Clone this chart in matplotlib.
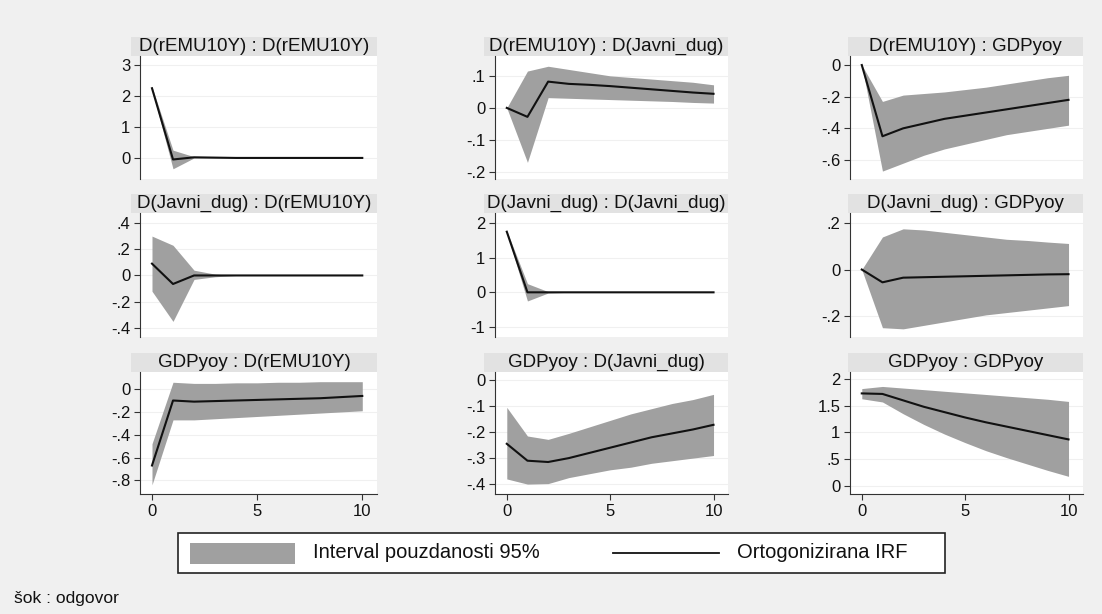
import matplotlib
matplotlib.use("Agg")
import matplotlib.pyplot as plt
from matplotlib.patches import Rectangle
from matplotlib.lines import Line2D

plt.rcParams["font.family"] = ["Liberation Sans", "DejaVu Sans"]

steps = list(range(11))

titles = [
    "D(rEMU10Y) : D(rEMU10Y)", "D(rEMU10Y) : D(Javni_dug)", "D(rEMU10Y) : GDPyoy",
    "D(Javni_dug) : D(rEMU10Y)", "D(Javni_dug) : D(Javni_dug)", "D(Javni_dug) : GDPyoy",
    "GDPyoy : D(rEMU10Y)", "GDPyoy : D(Javni_dug)", "GDPyoy : GDPyoy",
]

# orthogonalised IRF, lower and upper 95% bounds, per panel
irf_1 = [2.25, -0.05, 0.02, 0.01, 0, 0, 0, 0, 0, 0, 0]
lo_1 = [2.2, -0.35, 0.0, 0.0, 0, 0, 0, 0, 0, 0, 0]
hi_1 = [2.3, 0.25, 0.04, 0.015, 0, 0, 0, 0, 0, 0, 0]

irf_2 = [0, -0.028, 0.082, 0.075, 0.072, 0.068, 0.063, 0.058, 0.053, 0.048, 0.044]
lo_2 = [0, -0.17, 0.032, 0.03, 0.028, 0.026, 0.024, 0.022, 0.02, 0.017, 0.015]
hi_2 = [0, 0.115, 0.13, 0.12, 0.11, 0.10, 0.095, 0.09, 0.085, 0.08, 0.072]

irf_3 = [0, -0.45, -0.40, -0.37, -0.34, -0.32, -0.30, -0.28, -0.26, -0.24, -0.22]
lo_3 = [0, -0.67, -0.62, -0.57, -0.53, -0.50, -0.47, -0.44, -0.42, -0.40, -0.38]
hi_3 = [0, -0.23, -0.19, -0.18, -0.17, -0.155, -0.14, -0.12, -0.10, -0.08, -0.065]

irf_4 = [0.09, -0.065, 0.0, 0.0, 0, 0, 0, 0, 0, 0, 0]
lo_4 = [-0.12, -0.35, -0.03, -0.01, 0, 0, 0, 0, 0, 0, 0]
hi_4 = [0.30, 0.23, 0.04, 0.01, 0, 0, 0, 0, 0, 0, 0]

irf_5 = [1.75, 0.0, 0.0, 0, 0, 0, 0, 0, 0, 0, 0]
lo_5 = [1.72, -0.25, -0.02, 0, 0, 0, 0, 0, 0, 0, 0]
hi_5 = [1.78, 0.25, 0.02, 0, 0, 0, 0, 0, 0, 0, 0]

irf_6 = [0, -0.055, -0.035, -0.033, -0.031, -0.029, -0.027, -0.025, -0.023, -0.021, -0.02]
lo_6 = [0, -0.25, -0.255, -0.24, -0.225, -0.21, -0.195, -0.185, -0.175, -0.165, -0.155]
hi_6 = [0, 0.14, 0.175, 0.17, 0.16, 0.15, 0.14, 0.13, 0.125, 0.118, 0.112]

irf_7 = [-0.67, -0.10, -0.11, -0.105, -0.10, -0.095, -0.09, -0.085, -0.08, -0.07, -0.06]
lo_7 = [-0.84, -0.27, -0.27, -0.26, -0.25, -0.24, -0.23, -0.22, -0.21, -0.20, -0.19]
hi_7 = [-0.48, 0.06, 0.05, 0.05, 0.055, 0.055, 0.06, 0.06, 0.065, 0.065, 0.065]

irf_8 = [-0.245, -0.31, -0.315, -0.30, -0.28, -0.26, -0.24, -0.22, -0.205, -0.19, -0.172]
lo_8 = [-0.38, -0.40, -0.398, -0.375, -0.36, -0.345, -0.335, -0.32, -0.31, -0.30, -0.29]
hi_8 = [-0.105, -0.215, -0.228, -0.205, -0.18, -0.155, -0.13, -0.11, -0.09, -0.075, -0.055]

irf_9 = [1.73, 1.72, 1.60, 1.48, 1.38, 1.28, 1.19, 1.11, 1.03, 0.95, 0.87]
lo_9 = [1.63, 1.57, 1.35, 1.15, 0.97, 0.81, 0.66, 0.53, 0.41, 0.29, 0.18]
hi_9 = [1.82, 1.86, 1.83, 1.80, 1.77, 1.74, 1.71, 1.68, 1.65, 1.62, 1.58]

series = [
    (irf_1, lo_1, hi_1), (irf_2, lo_2, hi_2), (irf_3, lo_3, hi_3),
    (irf_4, lo_4, hi_4), (irf_5, lo_5, hi_5), (irf_6, lo_6, hi_6),
    (irf_7, lo_7, hi_7), (irf_8, lo_8, hi_8), (irf_9, lo_9, hi_9),
]

yticks = [
    [0, 1, 2, 3], [-0.2, -0.1, 0, 0.1], [-0.6, -0.4, -0.2, 0],
    [-0.4, -0.2, 0, 0.2, 0.4], [-1, 0, 1, 2], [-0.2, 0, 0.2],
    [-0.8, -0.6, -0.4, -0.2, 0], [-0.4, -0.3, -0.2, -0.1, 0], [0, 0.5, 1, 1.5, 2],
]
ylims = [
    (-0.68, 3.29), (-0.222, 0.162), (-0.72, 0.057),
    (-0.469, 0.476), (-1.29, 2.29), (-0.29, 0.243),
    (-0.92, 0.15), (-0.438, 0.031), (-0.15, 2.13),
]

legend_labels = ["Interval pouzdanosti 95%", "Ortogonizirana IRF"]
note = "šok : odgovor"


def stata_fmt(v):
    # Stata style: no leading zero, e.g. -.2
    if abs(v - round(v)) < 1e-9:
        return str(int(round(v)))
    return f"{v:g}".replace("0.", ".")


W, H = 1102, 614
BG = "#f0f0f0"
BAND = "#e2e2e2"
FILL = "#a0a0a0"
INK = "#111111"


def fx(x):
    return x / W


def fy(y):
    return 1 - y / H


fig = plt.figure(figsize=(W / 100, H / 100), dpi=100, facecolor=BG)

col_x = [(140, 377), (495, 728), (850, 1083)]
row_y = [(56, 179), (213, 337), (372, 494)]
band_left = [9, 11, 2]   # px the title band reaches left of the y axis
band_px = 19

for i in range(9):
    r, c = divmod(i, 3)
    x0, x1 = col_x[c]
    y0, y1 = row_y[r]
    ax = fig.add_axes([fx(x0), fy(y1), (x1 - x0) / W, (y1 - y0) / H])
    ax.set_facecolor("white")
    irf, lo, hi = series[i]
    ax.fill_between(steps, lo, hi, color=FILL, linewidth=0)
    ax.plot(steps, irf, color=INK, linewidth=1.5)
    ax.set_xlim(-0.57, 10.7)
    ax.set_ylim(*ylims[i])
    ax.set_yticks(yticks[i])
    ax.set_yticklabels([stata_fmt(v) for v in yticks[i]])
    ax.grid(axis="y", color="#f0f0f0", linewidth=0.8)
    ax.set_axisbelow(True)
    for s in ("top", "right"):
        ax.spines[s].set_visible(False)
    ax.spines["left"].set_color("#333333")
    ax.spines["bottom"].set_color("#333333")
    ax.tick_params(axis="y", length=4, color="#333333", labelsize=12, pad=3,
                   labelcolor=INK)
    if r == 2:
        ax.set_xticks([0, 5, 10])
        ax.tick_params(axis="x", length=4, color="#333333", labelsize=12, pad=3,
                       labelcolor=INK)
    else:
        ax.spines["bottom"].set_visible(False)
        ax.set_xticks([])
    hb = band_px / (y1 - y0)
    bl = band_left[c] / (x1 - x0)
    ax.add_patch(Rectangle((-bl, 1), 1 + bl, hb, transform=ax.transAxes,
                           facecolor=BAND, edgecolor="none", clip_on=False))
    ax.text(0.5 - bl / 2, 1 + hb / 2, titles[i], transform=ax.transAxes,
            ha="center", va="center", fontsize=13.5, color=INK)

# legend box drawn by hand so that it spans the same width as the reference
fig.add_artist(Rectangle((fx(178), fy(573)), (945 - 178) / W, 40 / H,
                         transform=fig.transFigure, facecolor="white",
                         edgecolor="#222222", linewidth=1.2))
fig.add_artist(Rectangle((fx(190), fy(564)), (295 - 190) / W, 21 / H,
                         transform=fig.transFigure, facecolor=FILL,
                         edgecolor="none"))
fig.text(fx(313), fy(553), legend_labels[0], fontsize=14.5, color=INK,
         ha="left", va="center")
fig.add_artist(Line2D([fx(613), fx(719)], [fy(553), fy(553)],
                      transform=fig.transFigure, color=INK, linewidth=1.3))
fig.text(fx(737), fy(553), legend_labels[1], fontsize=14.5, color=INK,
         ha="left", va="center")

fig.text(fx(14), fy(598), note, fontsize=12.5, ha="left", va="center", color=INK)

fig.savefig("out.png", dpi=100, facecolor=BG)
